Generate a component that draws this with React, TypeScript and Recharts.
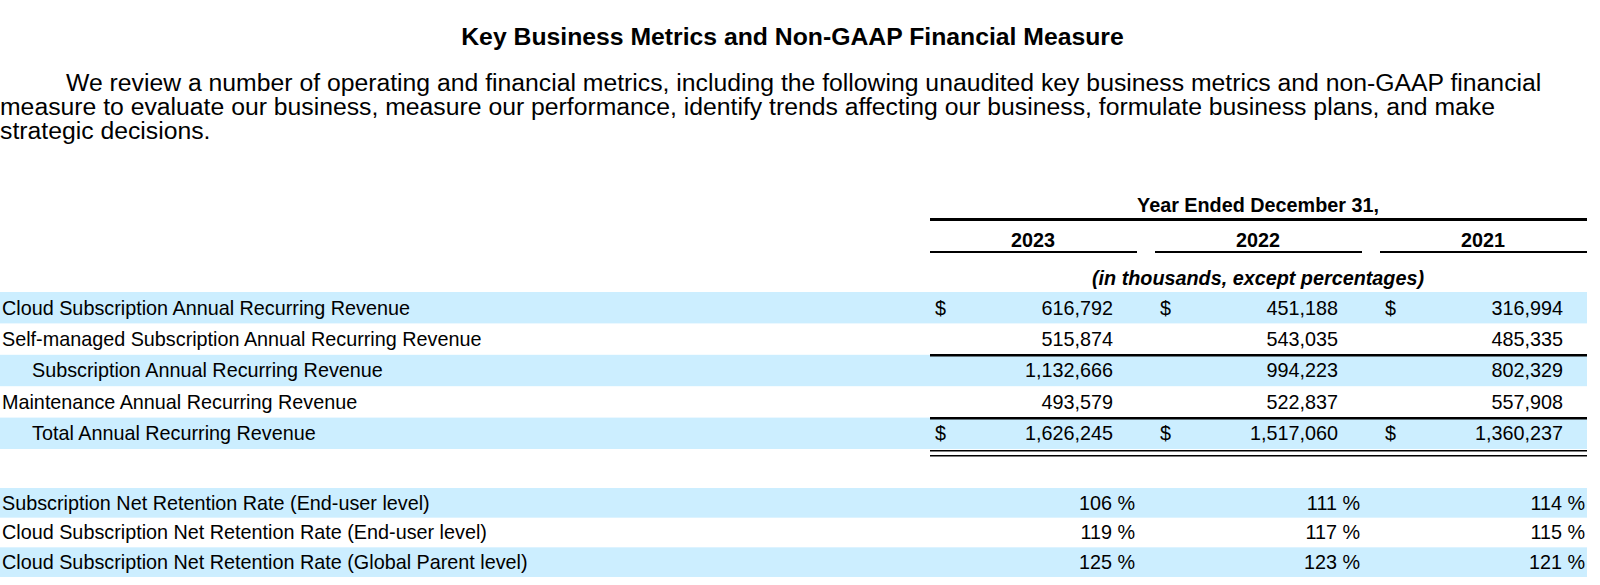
import React from 'react'
import { ScatterChart, Scatter, XAxis, YAxis } from 'recharts'

// ---------------------------------------------------------------------------
// Data
// ---------------------------------------------------------------------------

const TITLE = 'Key Business Metrics and Non-GAAP Financial Measure'
const PARAGRAPH_LINES = [
  'We review a number of operating and financial metrics, including the following unaudited key business metrics and non-GAAP financial',
  'measure to evaluate our business, measure our performance, identify trends affecting our business, formulate business plans, and make',
  'strategic decisions.',
]
const HEADER = 'Year Ended December 31,'
const UNITS_NOTE = '(in thousands, except percentages)'

const YEARS = ['2023', '2022', '2021']

const ARR_ROWS = [
  'Cloud Subscription Annual Recurring Revenue',
  'Self-managed Subscription Annual Recurring Revenue',
  'Subscription Annual Recurring Revenue',
  'Maintenance Annual Recurring Revenue',
  'Total Annual Recurring Revenue',
]
const ARR_2023 = [616792, 515874, 1132666, 493579, 1626245]
const ARR_2022 = [451188, 543035, 994223, 522837, 1517060]
const ARR_2021 = [316994, 485335, 802329, 557908, 1360237]

const NRR_ROWS = [
  'Subscription Net Retention Rate (End-user level)',
  'Cloud Subscription Net Retention Rate (End-user level)',
  'Cloud Subscription Net Retention Rate (Global Parent level)',
]
const NRR_2023 = [106, 119, 125]
const NRR_2022 = [111, 117, 123]
const NRR_2021 = [114, 115, 121]

// rows that carry a "$" sign, are indented, or have rules
const DOLLAR_ROWS = ['Cloud Subscription Annual Recurring Revenue', 'Total Annual Recurring Revenue']
const INDENTED_ROWS = ['Subscription Annual Recurring Revenue', 'Total Annual Recurring Revenue']
const RULE_ABOVE_ROWS = ['Subscription Annual Recurring Revenue', 'Total Annual Recurring Revenue']
const DOUBLE_RULE_ROWS = ['Total Annual Recurring Revenue']

// ---------------------------------------------------------------------------
// Layout / theme
// ---------------------------------------------------------------------------

const FONT = '"Liberation Sans", Arial, Helvetica, sans-serif'
const BIG_FONT = 24.75
const TABLE_FONT = 19.8
const SHADE = '#cceeff'
const INK = '#000000'

const PAGE_W = 1600
const PLOT_LEFT = 921
const PLOT_RIGHT_PAD = 4.5
const BAND_W = (PAGE_W - PLOT_RIGHT_PAD - PLOT_LEFT) / YEARS.length
const RULE_LEFT = PLOT_LEFT + 9
const RULE_RIGHT = 1587
const SHADE_RIGHT = 1587

const ARR_TOP = 180
const ARR_PLOT_TOP = 292
const ARR_PLOT_H = 157
const ARR_BOTTOM_PAD = 14
const ARR_ROW_H = ARR_PLOT_H / ARR_ROWS.length
const YEAR_LABEL_Y = 240
const YEAR_RULE_Y = 252

const NRR_TOP = 488
const NRR_PLOT_H = 89
const NRR_ROW_H = NRR_PLOT_H / NRR_ROWS.length

// baseline that vertically centres digits on y, snapped to the pixel grid
const baseline = (y: number) => Math.round(y + TABLE_FONT * 0.35)

// ---------------------------------------------------------------------------
// Tables built from the arrays
// ---------------------------------------------------------------------------

const arrByYear = [ARR_2023, ARR_2022, ARR_2021]
const nrrByYear = [NRR_2023, NRR_2022, NRR_2021]

function rowTable(rows: string[]) {
  return rows.map((row, i) => ({
    row,
    year: YEARS[0],
    shaded: i % 2 === 0,
    indent: INDENTED_ROWS.includes(row),
    ruleAbove: RULE_ABOVE_ROWS.includes(row),
    doubleBelow: DOUBLE_RULE_ROWS.includes(row),
  }))
}

const arrRowData = rowTable(ARR_ROWS)
const nrrRowData = rowTable(NRR_ROWS)

// column headers sit on the first row's scale position, drawn above it
const yearHeaders = YEARS.map((year) => ({ year, row: ARR_ROWS[0] }))

const arrCells = ARR_ROWS.flatMap((row, i) =>
  YEARS.map((year, j) => ({ row, year, value: arrByYear[j][i], dollar: DOLLAR_ROWS.includes(row) })),
)
const nrrCells = NRR_ROWS.flatMap((row, i) =>
  YEARS.map((year, j) => ({ row, year, value: nrrByYear[j][i] })),
)

const fmt = (v: number) => v.toLocaleString('en-US')

// ---------------------------------------------------------------------------
// Shapes
// ---------------------------------------------------------------------------

function makeRowShape(rowH: number) {
  return (props: any) => {
    const { cy, payload } = props
    const top = cy - rowH / 2
    const w = RULE_RIGHT - RULE_LEFT
    return (
      <g>
        {payload.shaded ? <rect x={0} y={top} width={SHADE_RIGHT} height={rowH} fill={SHADE} /> : null}
        <text x={payload.indent ? 32 : 2} y={baseline(cy)} fontSize={TABLE_FONT} fontFamily={FONT} fill={INK}>
          {payload.row}
        </text>
        {payload.ruleAbove ? <rect x={RULE_LEFT} y={Math.round(top) - 1} width={w} height={2.5} fill={INK} /> : null}
        {payload.doubleBelow ? (
          <g>
            <rect x={RULE_LEFT} y={Math.round(top + rowH) + 1} width={w} height={1.5} fill={INK} />
            <rect x={RULE_LEFT} y={Math.round(top + rowH) + 6} width={w} height={1.5} fill={INK} />
          </g>
        ) : null}
      </g>
    )
  }
}

function YearHeader(props: any) {
  const { cx, cy, payload } = props
  // cy is the centre of the first data row; header lines are measured from the plot top
  const plotTop = cy - ARR_ROW_H / 2
  const shift = plotTop - (ARR_PLOT_TOP - ARR_TOP)
  return (
    <g>
      <text
        x={Math.round(cx)}
        y={baseline(YEAR_LABEL_Y - ARR_TOP + shift)}
        textAnchor="middle"
        fontSize={TABLE_FONT}
        fontFamily={FONT}
        fontWeight="bold"
        fill={INK}
      >
        {payload.year}
      </text>
      <rect
        x={Math.round(cx - BAND_W / 2 + 9)}
        y={Math.round(YEAR_RULE_Y - ARR_TOP + shift) - 1}
        width={Math.round(BAND_W - 18)}
        height={2}
        fill={INK}
      />
    </g>
  )
}

function ArrCell(props: any) {
  const { cx, cy, payload } = props
  const left = Math.round(cx - BAND_W / 2)
  const right = Math.round(cx + BAND_W / 2)
  const y = baseline(cy)
  return (
    <g fontSize={TABLE_FONT} fontFamily={FONT} fill={INK}>
      {payload.dollar ? (
        <text x={left + 14} y={y}>
          $
        </text>
      ) : null}
      <text x={right - 33} y={y} textAnchor="end">
        {fmt(payload.value)}
      </text>
    </g>
  )
}

function NrrCell(props: any) {
  const { cx, cy, payload } = props
  const right = Math.round(cx + BAND_W / 2)
  return (
    <text x={right - 11} y={baseline(cy)} textAnchor="end" fontSize={TABLE_FONT} fontFamily={FONT} fill={INK}>
      {`${payload.value} %`}
    </text>
  )
}

// ---------------------------------------------------------------------------
// App
// ---------------------------------------------------------------------------

const centerNote = (top: number, italic: boolean, text: string) => (
  <div
    style={{
      position: 'absolute',
      left: Math.round(PLOT_LEFT + BAND_W * 1.5 - 300),
      width: 600,
      top,
      textAlign: 'center',
      fontSize: TABLE_FONT,
      lineHeight: `${TABLE_FONT}px`,
      fontWeight: 'bold',
      fontStyle: italic ? 'italic' : 'normal',
      whiteSpace: 'nowrap',
    }}
  >
    {text}
  </div>
)

export default function App() {
  return (
    <div
      style={{
        position: 'absolute',
        left: 0,
        top: 0,
        width: PAGE_W,
        height: 585,
        background: '#fff',
        color: INK,
        fontFamily: FONT,
        overflow: 'hidden',
      }}
    >
      <div
        style={{
          position: 'absolute',
          left: 0,
          width: 1585,
          top: 25,
          textAlign: 'center',
          fontWeight: 'bold',
          fontSize: BIG_FONT,
          lineHeight: `${BIG_FONT}px`,
          whiteSpace: 'nowrap',
        }}
      >
        {TITLE}
      </div>
      {PARAGRAPH_LINES.map((line, i) => (
        <div
          key={i}
          style={{
            position: 'absolute',
            left: i === 0 ? 66 : 0,
            top: 70.5 + i * 24,
            fontSize: BIG_FONT,
            lineHeight: `${BIG_FONT}px`,
            whiteSpace: 'nowrap',
          }}
        >
          {line}
        </div>
      ))}

      {centerNote(195.5, false, HEADER)}
      <div
        style={{
          position: 'absolute',
          left: RULE_LEFT,
          width: RULE_RIGHT - RULE_LEFT,
          top: 218,
          height: 3,
          background: INK,
        }}
      />
      {centerNote(268.5, true, UNITS_NOTE)}

      <div style={{ position: 'absolute', left: 0, top: ARR_TOP }}>
        <ScatterChart
          width={PAGE_W}
          height={ARR_PLOT_TOP - ARR_TOP + ARR_PLOT_H + ARR_BOTTOM_PAD}
          margin={{ top: ARR_PLOT_TOP - ARR_TOP, right: PLOT_RIGHT_PAD, bottom: ARR_BOTTOM_PAD, left: PLOT_LEFT }}
        >
          <XAxis dataKey="year" type="category" scale="band" allowDuplicatedCategory={false} hide />
          <YAxis dataKey="row" type="category" scale="band" allowDuplicatedCategory={false} reversed hide />
          <Scatter data={arrRowData} shape={makeRowShape(ARR_ROW_H)} isAnimationActive={false} />
          <Scatter data={yearHeaders} shape={YearHeader} isAnimationActive={false} />
          <Scatter data={arrCells} shape={ArrCell} isAnimationActive={false} />
        </ScatterChart>
      </div>

      <div style={{ position: 'absolute', left: 0, top: NRR_TOP }}>
        <ScatterChart
          width={PAGE_W}
          height={NRR_PLOT_H}
          margin={{ top: 0, right: PLOT_RIGHT_PAD, bottom: 0, left: PLOT_LEFT }}
        >
          <XAxis dataKey="year" type="category" scale="band" allowDuplicatedCategory={false} hide />
          <YAxis dataKey="row" type="category" scale="band" allowDuplicatedCategory={false} reversed hide />
          <Scatter data={nrrRowData} shape={makeRowShape(NRR_ROW_H)} isAnimationActive={false} />
          <Scatter data={nrrCells} shape={NrrCell} isAnimationActive={false} />
        </ScatterChart>
      </div>
    </div>
  )
}
